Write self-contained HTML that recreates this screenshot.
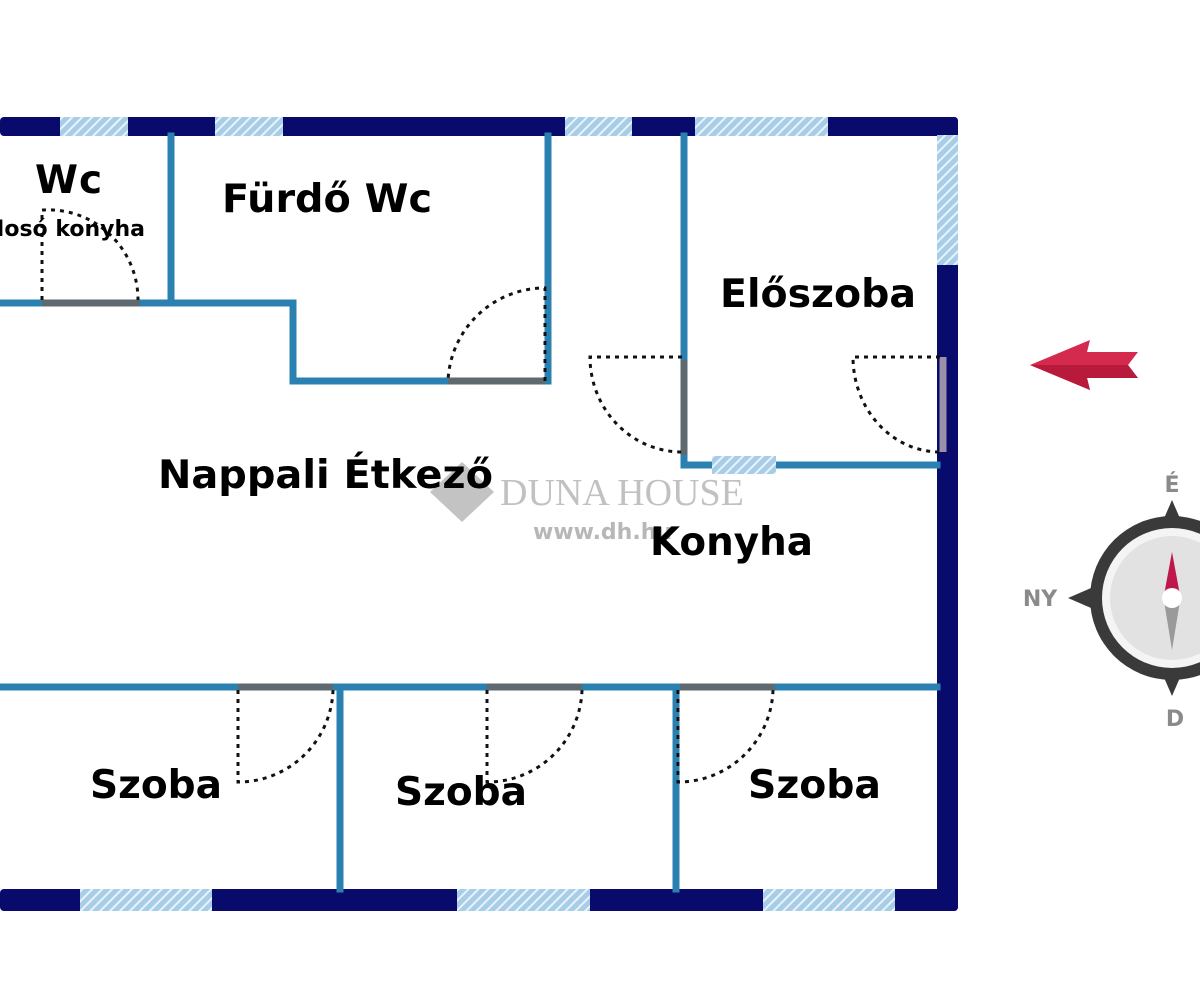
<!DOCTYPE html>
<html><head><meta charset="utf-8"><style>
html,body{margin:0;padding:0;background:#fff;}
svg{display:block}
text{font-family:"DejaVu Sans","Liberation Sans",sans-serif;font-weight:bold;}
</style></head><body>
<svg width="1200" height="1000" viewBox="0 0 1200 1000" xmlns="http://www.w3.org/2000/svg">
<defs>
<pattern id="h" width="7" height="7" patternUnits="userSpaceOnUse" patternTransform="rotate(45)">
<rect width="7" height="7" fill="#a8cde6"/><rect width="2" height="7" fill="#e8f3fb"/>
</pattern>
</defs>
<rect width="1200" height="1000" fill="#fff"/>
<rect x="0" y="117" width="958" height="19" rx="4" fill="#080a6c"/>
<rect x="937" y="117" width="21" height="794" rx="4" fill="#080a6c"/>
<rect x="0" y="889" width="958" height="22" rx="4" fill="#080a6c"/>
<rect x="60" y="117" width="68" height="19" fill="url(#h)"/>
<rect x="215" y="117" width="68" height="19" fill="url(#h)"/>
<rect x="565" y="117" width="67" height="19" fill="url(#h)"/>
<rect x="695" y="117" width="133" height="19" fill="url(#h)"/>
<rect x="937" y="135" width="21" height="130" fill="url(#h)"/>
<rect x="80" y="889" width="132" height="22" fill="url(#h)"/>
<rect x="457" y="889" width="133" height="22" fill="url(#h)"/>
<rect x="763" y="889" width="132" height="22" fill="url(#h)"/>
<g stroke="#2a80b0" stroke-width="7" fill="none" stroke-linecap="square">
<line x1="171" y1="136" x2="171" y2="303"/>
<polyline points="0,303 293,303 293,381 548,381 548,136"/>
<polyline points="684,136 684,465 937,465"/>
<line x1="0" y1="687" x2="937" y2="687"/>
<line x1="340" y1="687" x2="340" y2="889"/>
<line x1="676" y1="687" x2="676" y2="889"/>
</g>
<rect x="712" y="456" width="64" height="18" fill="url(#h)"/>
<g stroke="#5e6a70" stroke-width="7">
<line x1="42" y1="303" x2="140" y2="303"/>
<line x1="448" y1="381" x2="545" y2="381"/>
<line x1="684" y1="360" x2="684" y2="455"/>
<line x1="238" y1="687" x2="333" y2="687"/>
<line x1="487" y1="687" x2="582" y2="687"/>
<line x1="680" y1="687" x2="775" y2="687"/>
</g>
<line x1="943" y1="357" x2="943" y2="452" stroke="#9a90a8" stroke-width="7"/>
<g stroke="#111" stroke-width="3" fill="none" stroke-dasharray="4 5">
<path d="M42 300 L42 210 A90 90 0 0 1 138 300"/>
<path d="M545 381 L545 288 A97 97 0 0 0 448 381"/>
<path d="M682 357 L590 357 A92 95 0 0 0 682 452"/>
<path d="M940 357 L853 357 A87 95 0 0 0 940 452"/>
<path d="M238 690 L238 782 A95 95 0 0 0 333 690"/>
<path d="M487 690 L487 782 A95 95 0 0 0 582 690"/>
<path d="M678 690 L678 782 A95 95 0 0 0 773 690"/>
</g>
<g opacity="0.7">
<path d="M462 462 L494 492 L462 522 L430 492 Z" fill="#aaa"/>
<text x="500" y="505" font-size="38" fill="#a8a8a8" style="font-family:'Liberation Serif',serif;font-weight:normal">DUNA HOUSE</text>
<text x="533" y="539" font-size="22" fill="#999">www.dh.hu</text>
</g>
<g fill="#000" font-size="39">
<text x="35" y="193" letter-spacing="1">Wc</text>
<text x="145" y="236" font-size="22" text-anchor="end">Mosó konyha</text>
<text x="222" y="212" textLength="210" lengthAdjust="spacingAndGlyphs">Fürdő Wc</text>
<text x="720" y="307" textLength="196" lengthAdjust="spacingAndGlyphs">Előszoba</text>
<text x="158" y="488" textLength="335" lengthAdjust="spacingAndGlyphs">Nappali Étkező</text>
<text x="650" y="555" textLength="163" lengthAdjust="spacingAndGlyphs">Konyha</text>
<text x="90" y="798" textLength="132" lengthAdjust="spacingAndGlyphs">Szoba</text>
<text x="395" y="805" textLength="132" lengthAdjust="spacingAndGlyphs">Szoba</text>
<text x="748" y="798" textLength="133" lengthAdjust="spacingAndGlyphs">Szoba</text>
</g>
<path d="M1030 365 L1090 340 L1087 352 L1138 352 L1128 365 L1138 378 L1087 378 L1090 390 Z" fill="#d42a4e"/>
<path d="M1030 365 L1128 365 L1138 378 L1087 378 L1090 390 Z" fill="#b81a3c"/>
<g>
<path d="M1172 500 L1185 530 L1159 530 Z" fill="#3a3a3a"/>
<path d="M1172 696 L1185 666 L1159 666 Z" fill="#3a3a3a"/>
<path d="M1068 598 L1098 585 L1098 611 Z" fill="#3a3a3a"/>
<circle cx="1172" cy="598" r="82" fill="#3a3a3a"/>
<circle cx="1172" cy="598" r="70" fill="#f4f4f4"/>
<circle cx="1172" cy="598" r="62" fill="#e2e2e2"/>
<path d="M1172 552 L1180 595 L1164 595 Z" fill="#c0174a"/>
<path d="M1172 650 L1180 601 L1164 601 Z" fill="#9a9a9a"/>
<circle cx="1172" cy="598" r="10" fill="#fff"/>
<text x="1172" y="492" font-size="22" fill="#8a8a8a" text-anchor="middle">É</text>
<text x="1040" y="606" font-size="22" fill="#8a8a8a" text-anchor="middle">NY</text>
<text x="1175" y="726" font-size="22" fill="#8a8a8a" text-anchor="middle">D</text>
</g>
</svg>
</body></html>
